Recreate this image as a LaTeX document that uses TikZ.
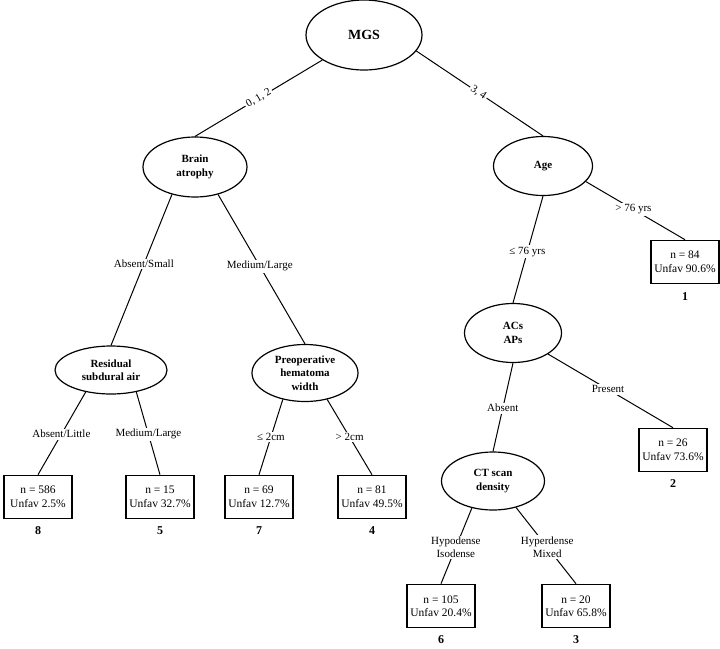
\documentclass[tikz,border=0pt]{standalone}
\usepackage{fontspec}
\setmainfont{Liberation Serif}
\usetikzlibrary{positioning, shapes.geometric}

\tikzset{
  split/.style={ellipse, draw, line width=1.2pt, inner sep=0pt, align=center,
    font=\fontsize{11}{13.5}\selectfont\bfseries},
  leaf/.style={rectangle, draw, line width=1.6pt, inner sep=2pt, align=center,
    minimum width=68pt, minimum height=43pt, font=\fontsize{11.5}{13.5}\selectfont},
  leafno/.style={inner sep=1pt, font=\fontsize{12}{14}\selectfont\bfseries},
  branch/.style={line width=1pt},
  cond/.style={fill=white, inner sep=1.5pt, align=center, font=\fontsize{11}{13}\selectfont},
}

\begin{document}
\begin{tikzpicture}[x=1pt, y=-1pt]
    \useasboundingbox (0,0) rectangle (720,648);

    % Splits
    \node[split, minimum width=116pt, minimum height=70pt,
          font=\fontsize{14}{16}\selectfont\bfseries] (mgs) at (364,35) {MGS};
    \node[split, minimum width=104pt, minimum height=60pt] (atrophy) at (195,167) {Brain\\atrophy};
    \node[split, minimum width=99pt, minimum height=59pt] (age) at (543,166) {Age};
    \node[split, minimum width=112pt, minimum height=48pt] (air) at (111,370) {Residual\\subdural air};
    \node[split, minimum width=106pt, minimum height=57pt] (hwidth) at (305,373) {Preoperative\\hematoma\\width};
    \node[split, minimum width=97pt, minimum height=59pt] (acs) at (513,333) {ACs\\APs};
    \node[split, minimum width=103pt, minimum height=58pt] (ct) at (493,481) {CT scan\\density};

    % Leaves
    \node[leaf] (l1) at (685,262) {n = 84\\Unfav 90.6\%};
    \node[leaf] (l2) at (673,450) {n = 26\\Unfav 73.6\%};
    \node[leaf] (l3) at (576,606) {n = 20\\Unfav 65.8\%};
    \node[leaf] (l4) at (372,497) {n = 81\\Unfav 49.5\%};
    \node[leaf] (l5) at (160,497) {n = 15\\Unfav 32.7\%};
    \node[leaf] (l6) at (441,606) {n = 105\\Unfav 20.4\%};
    \node[leaf] (l7) at (259,497) {n = 69\\Unfav 12.7\%};
    \node[leaf] (l8) at (38,497) {n = 586\\Unfav 2.5\%};

    % Edges
    \draw[branch] (mgs.211) -- node[cond, sloped, pos=0.5] {0, 1, 2} (atrophy.north);
    \draw[branch] (mgs.343) -- node[cond, sloped, pos=0.49] {3, 4} (age.north);
    \draw[branch] (atrophy.230) -- node[cond, pos=0.46] {Absent/Small} (air.north);
    \draw[branch] (atrophy.310) -- node[cond, pos=0.48] {Medium/Large} (hwidth.north);
    \draw[branch] (air.221) -- node[cond, pos=0.51] {Absent/Little} (l8.north);
    \draw[branch] (air.319) -- node[cond, pos=0.51] {Medium/Large} (l5.north);
    \draw[branch] (hwidth.230) -- node[cond, pos=0.5] {≤ 2cm} (l7.north);
    \draw[branch] (hwidth.310) -- node[cond, pos=0.5] {> 2cm} (l4.north);
    \draw[branch] (age.south) -- node[cond, pos=0.52] {≤ 76 yrs} (acs.north);
    \draw[branch] (age.340) -- node[cond, pos=0.48] {> 76 yrs} (l1.north);
    \draw[branch] (acs.south) -- node[cond, pos=0.51] {Absent} (ct.north);
    \draw[branch] (acs.329) -- node[cond, pos=0.48] {Present} (l2.north);
    \draw[branch] (ct.232) -- node[cond, pos=0.52] {Hypodense\\Isodense} (l6.north);
    \draw[branch] (ct.311) -- node[cond, pos=0.52] {Hyperdense\\Mixed} (l3.north);

    % Leaf numbers
    \node[leafno, below=7pt of l1] (n1) {1};
    \node[leafno, below=6pt of l2] (n2) {2};
    \node[leafno, below=6pt of l3] (n3) {3};
    \node[leafno, below=6pt of l4] (n4) {4};
    \node[leafno, below=6pt of l5] (n5) {5};
    \node[leafno, below=6pt of l6] (n6) {6};
    \node[leafno, below=6pt of l7] (n7) {7};
    \node[leafno, below=6pt of l8] (n8) {8};
\end{tikzpicture}
\end{document}
